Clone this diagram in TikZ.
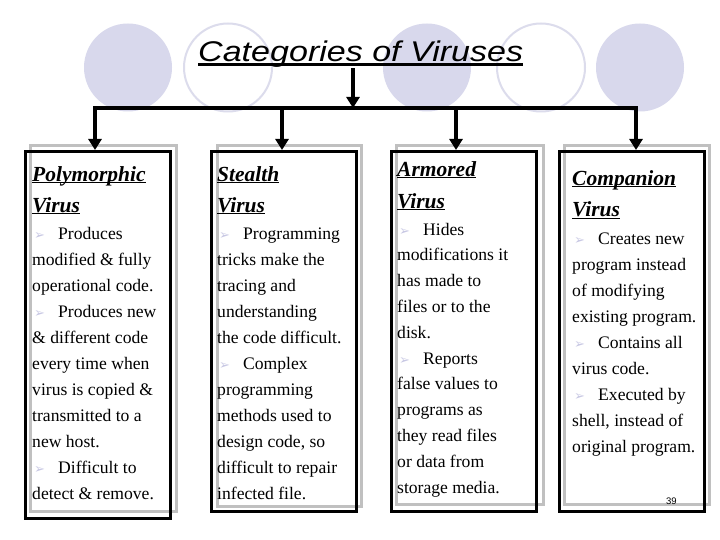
\documentclass[tikz,border=0pt]{standalone}
\usepackage{fontspec}
\usepackage{graphicx}
\setmainfont{Liberation Serif}
\newfontfamily\arialfont{Liberation Sans}
\newfontfamily\dejavu{DejaVu Sans}
\usetikzlibrary{arrows.meta}
\definecolor{circfill}{HTML}{D8D8EC}
\definecolor{circline}{HTML}{DCDCEC}
\definecolor{shadowgray}{HTML}{C0C0C0}
\definecolor{bulc}{HTML}{C8C8E4}
\newsavebox\ulbox
\newcommand\myul[3]{\sbox\ulbox{#3}\rlap{\vrule width\wd\ulbox height -#1 depth #2}\usebox\ulbox}
\newcommand\hdfont{\fontsize{21.5}{31}\bfseries\itshape\selectfont}
\newcommand\bdfont{\fontsize{17.6}{26}\selectfont}
\newcommand\hd[1]{\myul{0.6pt}{2.2pt}{#1}}
\newcommand\bul{\makebox[26pt][l]{\hspace{2pt}\textcolor{bulc}{\dejavu\fontsize{13}{13}\selectfont ➢}}}
\begin{document}
\begin{tikzpicture}[x=1pt,y=-1pt,
  filledcirc/.style={fill=circfill, draw=none},
  outlinecirc/.style={draw=circline, line width=2pt},
  blackbox/.style={draw=black, line width=3.4pt, inner sep=0pt, anchor=north west},
  shadowbox/.style={draw=shadowgray, line width=3pt, inner sep=0pt, anchor=north west},
  headtext/.style={anchor=base west, inner sep=0pt, align=left, font=\hdfont},
  bodytext/.style={anchor=base west, inner sep=0pt, align=left, font=\bdfont},
  conn/.style={line width=3.2pt},
  arr/.style={line width=3.2pt, -{Triangle[width=13pt,length=11pt]}}]
\useasboundingbox (0,0) rectangle (720,540);
\fill[white] (0,0) rectangle (720,540);
% decorative circles
\fill[filledcirc] (128,67.5) circle (44);
\draw[outlinecirc] (228,67.5) circle (44);
\fill[filledcirc] (427,67.5) circle (44);
\draw[outlinecirc] (541,67.5) circle (44);
\fill[filledcirc] (640,67.5) circle (44);
% title
\node[anchor=base west, inner sep=0pt, font=\arialfont\itshape\fontsize{28.5}{30}\selectfont] (title) at (198,62)
  {\scalebox{1.195}[1]{\myul{1pt}{4pt}{Categories of Viruses}}};
% shadow boxes
\node[shadowbox, minimum width=146pt, minimum height=366pt] (s1) at (29,144) {};
\node[shadowbox, minimum width=144pt, minimum height=361pt] (s2) at (216,144) {};
\node[shadowbox, minimum width=147pt, minimum height=359pt] (s3) at (395,144) {};
\node[shadowbox, minimum width=145pt, minimum height=359pt] (s4) at (563,144) {};
% black boxes
\node[blackbox, minimum width=145pt, minimum height=367pt] (b1) at (24,150) {};
\node[blackbox, minimum width=145pt, minimum height=360pt] (b2) at (210,150) {};
\node[blackbox, minimum width=145pt, minimum height=360pt] (b3) at (390,150) {};
\node[blackbox, minimum width=145pt, minimum height=360pt] (b4) at (558,150) {};
% connectors
\coordinate (top) at (353,108);
\coordinate (a1) at (95,108);
\coordinate (a2) at (282,108);
\coordinate (a3) at (456,108);
\coordinate (a4) at (636,108);
\draw[conn, line cap=rect] (a1) -- (a4);
\draw[arr] (title.south -| top) -- (top);
\draw[arr] (a1) -- (a1 |- b1.north);
\draw[arr] (a2) -- (a2 |- b2.north);
\draw[arr] (a3) -- (a3 |- b3.north);
\draw[arr] (a4) -- (a4 |- b4.north);
% box 1 (base anchor = last line baseline)
\node[headtext] (h1) at (32,212) {\hd{Polymorphic}\\\hd{Virus}};
\node[bodytext] (t1) at (32,499) {\bul Produces\\modified \& fully\\operational code.\\\bul Produces new\\\& different code\\every time when\\virus is copied \&\\transmitted to a\\new host.\\\bul Difficult to\\detect \& remove.};
% box 2
\node[headtext] (h2) at (217,212) {\hd{Stealth}\\\hd{Virus}};
\node[bodytext] (t2) at (217,499) {\bul Programming\\tricks make the\\tracing and\\understanding\\the code difficult.\\\bul Complex\\programming\\methods used to\\design code, so\\difficult to repair\\infected file.};
% box 3
\node[headtext, font=\fontsize{21.5}{32}\bfseries\itshape\selectfont] (h3) at (397,208) {\hd{Armored}\\\hd{Virus}};
\node[bodytext, font=\fontsize{17.6}{25.8}\selectfont] (t3) at (397,493) {\bul Hides\\modifications it\\has made to\\files or to the\\disk.\\\bul Reports\\false values to\\programs as\\they read files\\or data from\\storage media.};
% box 4
\node[headtext, font=\fontsize{21.5}{32}\bfseries\itshape\selectfont] (h4) at (572,217) {\hd{Companion}\\\hd{Virus}};
\node[bodytext] (t4) at (572,452) {\bul Creates new\\program instead\\of modifying\\existing program.\\\bul Contains all\\virus code.\\\bul Executed by\\shell, instead of\\original program.};
% page number
\node[anchor=base west, inner sep=0pt, font=\arialfont\fontsize{9.5}{10}\selectfont] (pg) at (666,504) {39};
\end{tikzpicture}
\end{document}
